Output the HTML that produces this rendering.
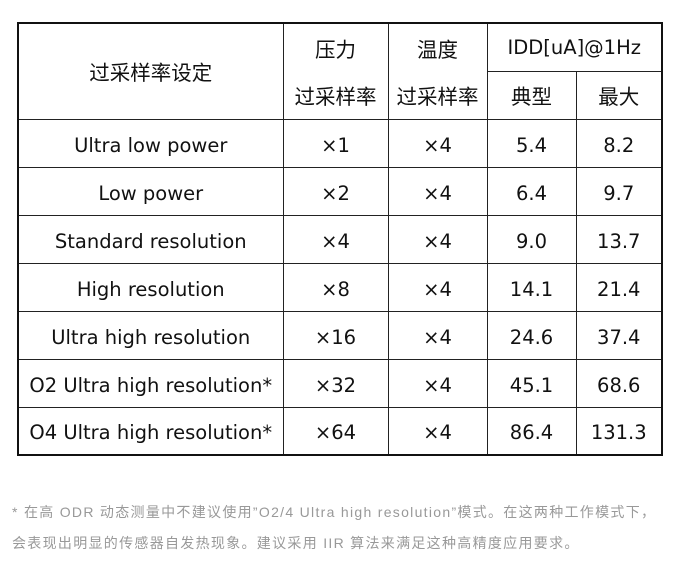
<!DOCTYPE html>
<html><head><meta charset="utf-8"><style>
body{margin:0;width:676px;height:569px;background:#fff;position:relative;overflow:hidden;font-family:"DejaVu Sans","Noto Sans CJK SC",sans-serif;}
table{position:absolute;left:17px;top:22px;border-collapse:collapse;border:2px solid #111;}
td{border:1px solid #222;text-align:center;font-size:19.5px;color:#111;padding:4px 0 0 0;height:43px;box-sizing:border-box;white-space:nowrap;}
.h{padding:0;font-size:20.5px}
.f{position:absolute;left:12px;color:#999;font-size:14px;white-space:nowrap;letter-spacing:1.3px;font-family:"Liberation Sans","Noto Sans CJK SC",sans-serif;}
</style></head><body>
<table>
<colgroup><col style="width:265px"><col style="width:105px"><col style="width:99px"><col style="width:89px"><col style="width:86px"></colgroup>
<tr><td class="h" rowspan="2" style="height:96px">过采样率设定</td><td class="h" style="border-bottom:none;height:48px">压力</td><td class="h" style="border-bottom:none">温度</td><td class="h" colspan="2" style="font-size:19.5px">IDD[uA]@1Hz</td></tr>
<tr><td class="h" style="border-top:none;height:48px">过采样率</td><td class="h" style="border-top:none">过采样率</td><td class="h">典型</td><td class="h">最大</td></tr>
<tr><td style="height:48px">Ultra low power</td><td>×1</td><td>×4</td><td>5.4</td><td>8.2</td></tr>
<tr><td style="height:48px">Low power</td><td>×2</td><td>×4</td><td>6.4</td><td>9.7</td></tr>
<tr><td style="height:48px">Standard resolution</td><td>×4</td><td>×4</td><td>9.0</td><td>13.7</td></tr>
<tr><td style="height:48px">High resolution</td><td>×8</td><td>×4</td><td>14.1</td><td>21.4</td></tr>
<tr><td style="height:48px">Ultra high resolution</td><td>×16</td><td>×4</td><td>24.6</td><td>37.4</td></tr>
<tr><td style="height:48px">O2 Ultra high resolution*</td><td>×32</td><td>×4</td><td>45.1</td><td>68.6</td></tr>
<tr><td style="height:48px">O4 Ultra high resolution*</td><td>×64</td><td>×4</td><td>86.4</td><td>131.3</td></tr>
</table>
<div class="f" style="top:502px">* 在高 ODR 动态测量中不建议使用”O2/4 Ultra high resolution”模式。在这两种工作模式下，</div>
<div class="f" style="top:533px">会表现出明显的传感器自发热现象。建议采用 IIR 算法来满足这种高精度应用要求。</div>
</body></html>
